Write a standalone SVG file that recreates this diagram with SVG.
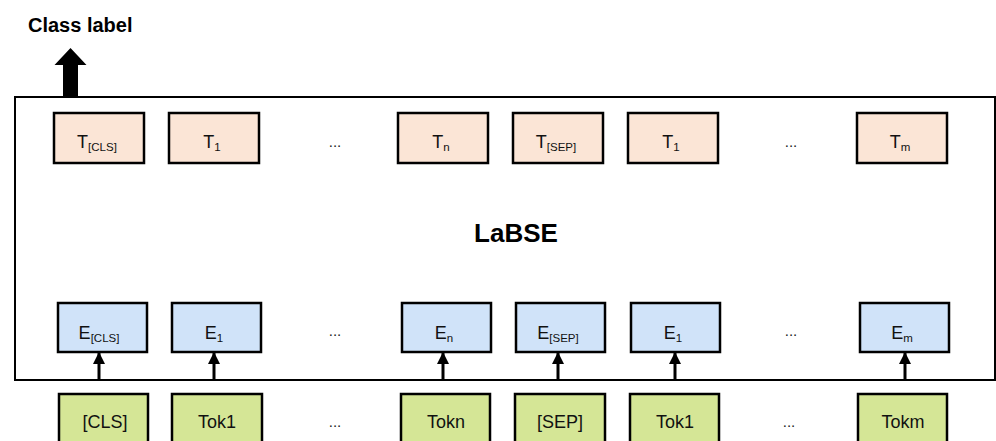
<svg xmlns="http://www.w3.org/2000/svg" width="996" height="441" viewBox="0 0 996 441">
<defs>
<style>
.t{fill:#FBE5D6;stroke:#000;stroke-width:2.5}
.e{fill:#D0E3F9;stroke:#000;stroke-width:2.5}
.k{fill:#D5E696;stroke:#000;stroke-width:2.5}
.lbl{font-family:"Liberation Sans",Arial,sans-serif;font-size:18px;fill:#111;text-anchor:middle}
.sub{font-size:11.5px}
.dots{font-family:"Liberation Sans",Arial,sans-serif;font-size:15px;fill:#222;text-anchor:middle}
.conn{stroke:#000;stroke-width:3;fill:none}
</style>
<marker id="ah" viewBox="0 0 12 12" refX="11" refY="6" markerWidth="12" markerHeight="12" markerUnits="userSpaceOnUse" orient="auto">
<path d="M0,0 L12,6 L0,12 Z" fill="#000"/>
</marker>
</defs>
<rect width="996" height="441" fill="#fff"/>

<g id="labse">
<rect x="15" y="97" width="980" height="283" fill="#fff" stroke="#000" stroke-width="2"/>
<text x="516" y="242" font-family="Liberation Sans,Arial,sans-serif" font-size="26" font-weight="bold" text-anchor="middle" fill="#000">LaBSE</text>
</g>

<g id="class-label">
<text x="28" y="32" font-family="Liberation Sans,Arial,sans-serif" font-size="20" font-weight="bold" fill="#000">Class label</text>
<path d="M63,97 L63,65 L54.5,65 L70.5,48 L86.5,65 L78,65 L78,97 Z" fill="#000"/>
</g>

<g id="t-cls"><rect class="t" x="54" y="113" width="90" height="50"/><text class="lbl" x="97" y="148">T<tspan class="sub" dy="3">[CLS]</tspan></text></g>
<g id="t-1a"><rect class="t" x="169" y="113" width="90" height="50"/><text class="lbl" x="212" y="148">T<tspan class="sub" dy="3">1</tspan></text></g>
<g id="t-n"><rect class="t" x="398" y="113" width="90" height="50"/><text class="lbl" x="441" y="148">T<tspan class="sub" dy="3">n</tspan></text></g>
<g id="t-sep"><rect class="t" x="513" y="113" width="90" height="50"/><text class="lbl" x="556" y="148">T<tspan class="sub" dy="3">[SEP]</tspan></text></g>
<g id="t-1b"><rect class="t" x="628" y="113" width="90" height="50"/><text class="lbl" x="671" y="148">T<tspan class="sub" dy="3">1</tspan></text></g>
<g id="t-m"><rect class="t" x="857" y="113" width="90" height="50"/><text class="lbl" x="900" y="148">T<tspan class="sub" dy="3">m</tspan></text></g>
<text class="dots" x="335" y="147">...</text>
<text class="dots" x="791" y="147">...</text>

<g id="e-cls"><rect class="e" x="58" y="303" width="89" height="49"/><text class="lbl" x="99" y="339">E<tspan class="sub" dy="3">[CLS]</tspan></text></g>
<g id="e-1a"><rect class="e" x="172" y="303" width="89" height="49"/><text class="lbl" x="214" y="339">E<tspan class="sub" dy="3">1</tspan></text></g>
<g id="e-n"><rect class="e" x="402" y="303" width="89" height="49"/><text class="lbl" x="444" y="339">E<tspan class="sub" dy="3">n</tspan></text></g>
<g id="e-sep"><rect class="e" x="516" y="303" width="89" height="49"/><text class="lbl" x="558" y="339">E<tspan class="sub" dy="3">[SEP]</tspan></text></g>
<g id="e-1b"><rect class="e" x="631" y="303" width="89" height="49"/><text class="lbl" x="673" y="339">E<tspan class="sub" dy="3">1</tspan></text></g>
<g id="e-m"><rect class="e" x="860" y="303" width="89" height="49"/><text class="lbl" x="902" y="339">E<tspan class="sub" dy="3">m</tspan></text></g>
<text class="dots" x="335" y="336">...</text>
<text class="dots" x="791" y="336">...</text>

<g id="tok-cls"><rect class="k" x="59" y="394" width="89" height="52"/><text class="lbl" x="105" y="428">[CLS]</text></g>
<g id="tok-1a"><rect class="k" x="172" y="394" width="90" height="52"/><text class="lbl" x="217" y="428">Tok1</text></g>
<g id="tok-n"><rect class="k" x="401" y="394" width="89" height="52"/><text class="lbl" x="446" y="428">Tokn</text></g>
<g id="tok-sep"><rect class="k" x="515" y="394" width="90" height="52"/><text class="lbl" x="560" y="428">[SEP]</text></g>
<g id="tok-1b"><rect class="k" x="630" y="394" width="89" height="52"/><text class="lbl" x="675" y="428">Tok1</text></g>
<g id="tok-m"><rect class="k" x="858" y="394" width="89" height="52"/><text class="lbl" x="903" y="428">Tokm</text></g>
<text class="dots" x="335" y="427">...</text>
<text class="dots" x="789" y="427">...</text>

<g id="connectors">
<line class="conn" x1="99" y1="380" x2="99" y2="353" marker-end="url(#ah)"/>
<line class="conn" x1="214" y1="380" x2="214" y2="353" marker-end="url(#ah)"/>
<line class="conn" x1="443" y1="380" x2="443" y2="353" marker-end="url(#ah)"/>
<line class="conn" x1="558" y1="380" x2="558" y2="353" marker-end="url(#ah)"/>
<line class="conn" x1="675" y1="380" x2="675" y2="353" marker-end="url(#ah)"/>
<line class="conn" x1="905" y1="380" x2="905" y2="353" marker-end="url(#ah)"/>
</g>
</svg>
